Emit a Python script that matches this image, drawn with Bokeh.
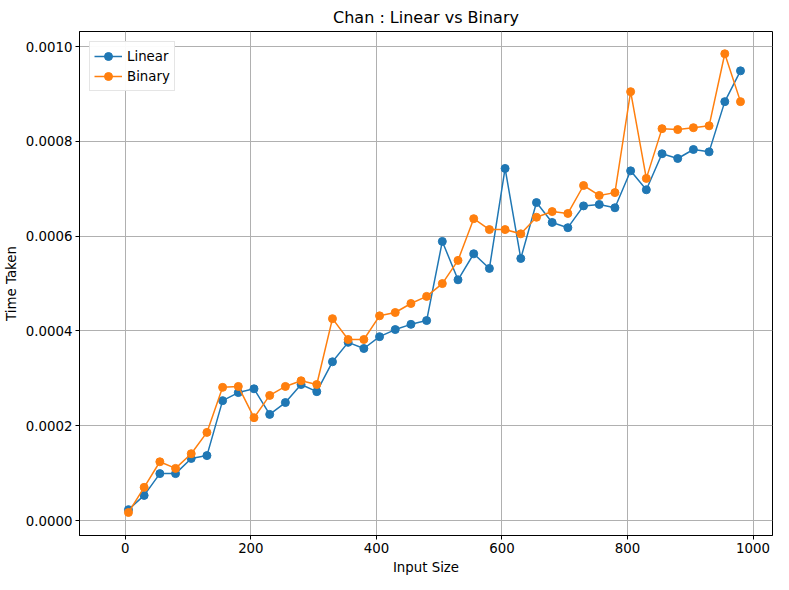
from bokeh.plotting import figure
from bokeh.models import Range1d, FixedTicker, NumeralTickFormatter
from bokeh.embed import file_html
from bokeh.resources import INLINE

sizes = list(range(5, 1000, 25))
linear = [0.000023, 0.000053, 0.000099, 0.000099, 0.000131, 0.000137, 0.000253, 0.000270,
          0.000278, 0.000224, 0.000249, 0.000287, 0.000272, 0.000335, 0.000376, 0.000363,
          0.000388, 0.000403, 0.000414, 0.000422, 0.000589, 0.000508, 0.000563, 0.000532,
          0.000743, 0.000553, 0.000671, 0.000629, 0.000618, 0.000664, 0.000667, 0.000660,
          0.000738, 0.000698, 0.000774, 0.000764, 0.000783, 0.000778, 0.000884, 0.000949]
binary = [0.000017, 0.000070, 0.000124, 0.000110, 0.000141, 0.000186, 0.000281, 0.000283,
          0.000217, 0.000264, 0.000283, 0.000295, 0.000287, 0.000426, 0.000382, 0.000382,
          0.000432, 0.000439, 0.000458, 0.000473, 0.000500, 0.000549, 0.000637, 0.000614,
          0.000614, 0.000605, 0.000640, 0.000652, 0.000648, 0.000707, 0.000686, 0.000692,
          0.000905, 0.000722, 0.000827, 0.000825, 0.000829, 0.000833, 0.000985, 0.000884]

p = figure(width=780, height=580, title="Chan : Linear vs Binary",
           x_range=Range1d(-73, 1031), y_range=Range1d(-0.0000316, 0.001032),
           toolbar_location=None, output_backend="svg",
           min_border_left=61, min_border_right=8, min_border_top=25, min_border_bottom=45)

p.title.align = "center"
p.title.text_font = "DejaVu Sans"
p.title.text_font_size = "12pt"
p.title.text_font_style = "normal"
p.title.text_color = "black"

p.line(sizes, linear, color="#1f77b4", line_width=1.5, legend_label="Linear")
p.scatter(sizes, linear, color="#1f77b4", size=8, legend_label="Linear")
p.line(sizes, binary, color="#ff7f0e", line_width=1.5, legend_label="Binary")
p.scatter(sizes, binary, color="#ff7f0e", size=8, legend_label="Binary")

p.xaxis.ticker = FixedTicker(ticks=[0, 200, 400, 600, 800, 1000])
p.yaxis.ticker = FixedTicker(ticks=[0, 0.0002, 0.0004, 0.0006, 0.0008, 0.001])
p.yaxis.formatter = NumeralTickFormatter(format="0.0000")
p.xaxis.axis_label = "Input Size"
p.yaxis.axis_label = "Time Taken"
for ax in (p.xaxis, p.yaxis):
    ax.axis_label_text_font = "DejaVu Sans"
    ax.axis_label_text_font_style = "normal"
    ax.axis_label_text_font_size = "10pt"
    ax.axis_label_text_color = "black"
    ax.axis_label_standoff = 4
    ax.major_label_text_font = "DejaVu Sans"
    ax.major_label_text_font_size = "10pt"
    ax.major_label_text_color = "black"
    ax.major_label_standoff = 3
    ax.minor_tick_line_color = None
    ax.axis_line_color = "black"
    ax.major_tick_line_color = "black"
    ax.major_tick_out = 4
    ax.major_tick_in = 0

p.outline_line_color = "black"
p.xgrid.grid_line_color = "#b0b0b0"
p.ygrid.grid_line_color = "#b0b0b0"

p.legend.location = "top_left"
p.legend.label_text_font = "DejaVu Sans"
p.legend.label_text_font_size = "10pt"
p.legend.label_text_color = "black"
p.legend.border_line_color = "#cccccc"
p.legend.spacing = 0
p.legend.padding = 4
p.legend.glyph_width = 28

open("out.html", "w").write(file_html(p, INLINE))
